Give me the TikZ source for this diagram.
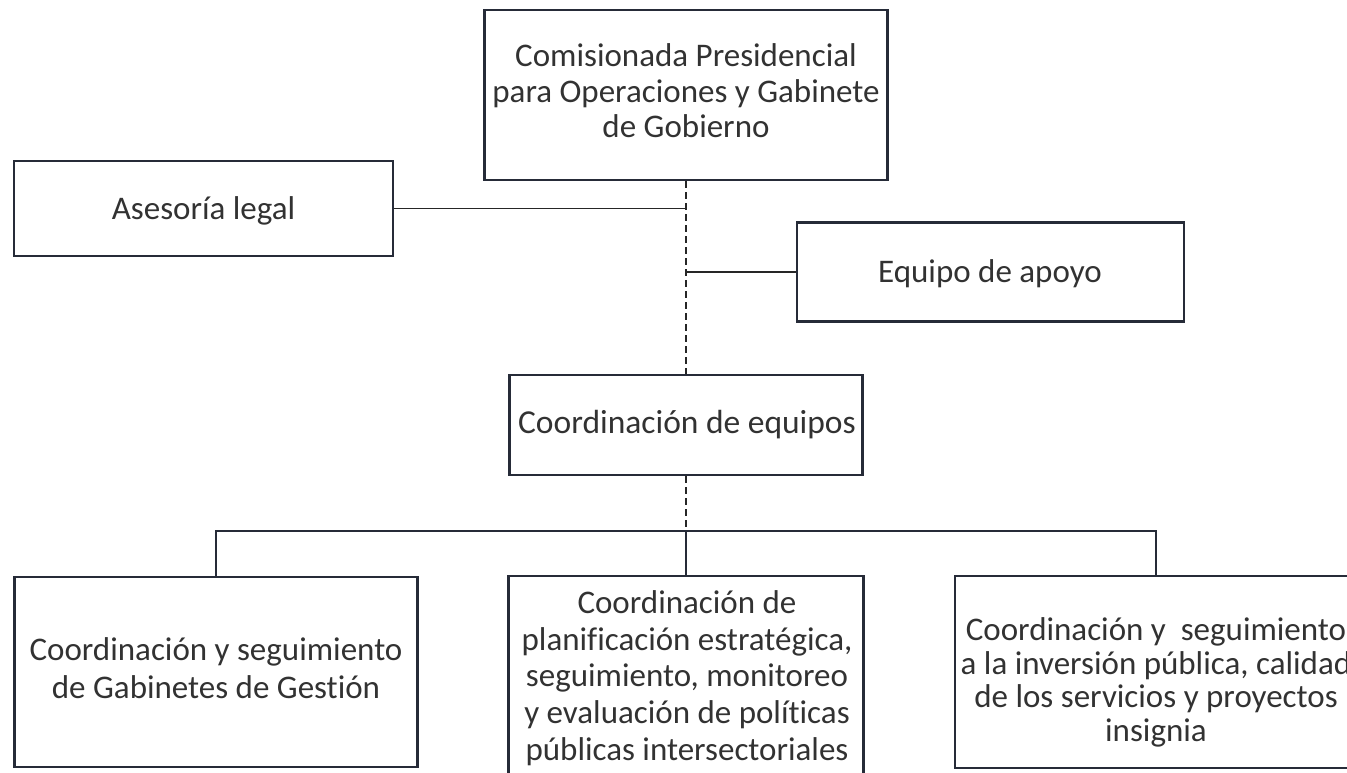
\documentclass[tikz,border=0pt]{standalone}
\usepackage{fontspec}
\setmainfont{Carlito}[Ligatures=NoCommon]
\definecolor{boxc}{RGB}{38,43,56}
\definecolor{txtc}{RGB}{50,50,50}
\begin{document}
\begin{tikzpicture}[x=1pt,y=-1pt,
  orgbox/.style={draw=boxc,line width=2.8pt,inner sep=0pt,rectangle},
  lbl/.style={text=txtc,align=center,inner sep=0pt},
  conn/.style={draw=black!85,line width=1.3pt},
  spine/.style={draw=black!85,line width=2.4pt,dash pattern=on 7pt off 4pt},
  busline/.style={draw=boxc,line width=2.2pt}]
\useasboundingbox (0,0) rectangle (1347,772);
% boxes
\node[orgbox,minimum width=403pt,minimum height=170pt] (top) at (686,95) {};
\node[orgbox,minimum width=379pt,minimum height=95pt] (legal) at (203.5,208.5) {};
\node[orgbox,minimum width=387pt,minimum height=99pt] (apoyo) at (990.5,272) {};
\node[orgbox,minimum width=353pt,minimum height=100pt] (equipos) at (686,425) {};
\node[orgbox,minimum width=403pt,minimum height=190pt] (lb) at (216,672) {};
\node[orgbox,minimum width=355pt,minimum height=214pt] (mid) at (686,683) {};
\node[orgbox,minimum width=402pt,minimum height=192pt] (rb) at (1156,672) {};
% texts
\node[lbl,font=\fontsize{33}{35.5}\selectfont] (toptxt) at (686,91) {Comisionada Presidencial\\para Operaciones y Gabinete\\de Gobierno};
\node[lbl,font=\fontsize{33}{36}\selectfont] (legaltxt) at (203.5,211) {Asesoría legal};
\node[lbl,font=\fontsize{33}{36}\selectfont] (apoyotxt) at (990,274) {Equipo de apoyo};
\node[lbl,font=\fontsize{33.5}{36}\selectfont] (equipostxt) at (687,424.5) {Coordinación de equipos};
\node[lbl,font=\fontsize{33}{38}\selectfont] (lbtxt) at (216,668.5) {Coordinación y seguimiento\\de Gabinetes de Gestión};
\node[lbl,font=\fontsize{33}{36.7}\selectfont] (midtxt) at (687,678) {Coordinación de\\planificación estratégica,\\seguimiento, monitoreo\\y evaluación de políticas\\públicas intersectoriales};
\node[lbl,font=\fontsize{33}{33.5}\selectfont] (rbtxt) at (1156,682.5) {Coordinación y\ \ seguimiento\\a la inversión pública, calidad\\de los servicios y proyectos\\insignia};
% connectors
\coordinate (bus) at (686,531);
\draw[spine] (top.south) -- (top.south |- equipos.north);
\draw[conn] (legal.east) -- (legal.east -| top.south);
\draw[conn] (apoyo.west) -- (apoyo.west -| top.south);
\draw[spine] (equipos.south) -- (bus);
\draw[busline] (lb.north) |- (bus) -| (rb.north);
\draw[busline] (bus) -- (mid.north);
\end{tikzpicture}
\end{document}
